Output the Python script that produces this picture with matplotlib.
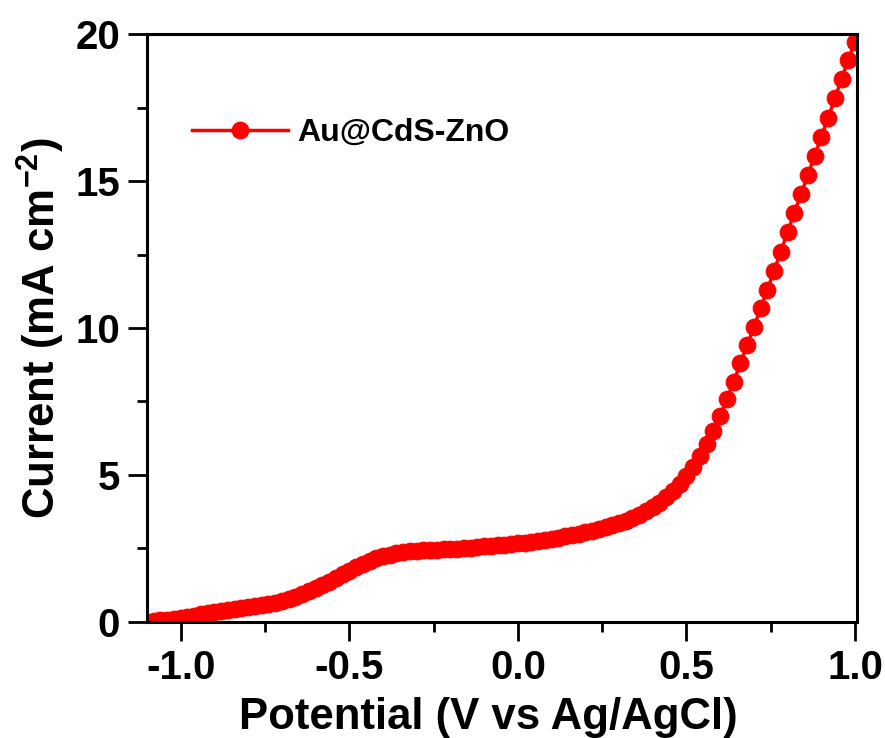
import numpy as np
import matplotlib
matplotlib.use('Agg')
import matplotlib.pyplot as plt
from matplotlib.ticker import MultipleLocator, FormatStrFormatter

plt.rcParams['font.family'] = ['Liberation Sans', 'DejaVu Sans']
plt.rcParams['font.weight'] = 'bold'
plt.rcParams['axes.unicode_minus'] = False
plt.rcParams['mathtext.fontset'] = 'custom'
plt.rcParams['mathtext.rm'] = 'Liberation Sans:bold'
plt.rcParams['mathtext.default'] = 'rm'

# LSV scan, Au@CdS-ZnO (potential vs Ag/AgCl, 20 mV steps)
potential = np.round(np.arange(-1.10, 1.001, 0.02), 2)
current = [
    # -1.10 ... -0.16
    0.00, 0.03, 0.06, 0.08, 0.11, 0.14, 0.18, 0.22, 0.26, 0.30,
    0.34, 0.38, 0.42, 0.45, 0.48, 0.51, 0.54, 0.57, 0.61, 0.66,
    0.71, 0.77, 0.85, 0.94, 1.04, 1.14, 1.25, 1.37, 1.50, 1.62,
    1.74, 1.86, 1.97, 2.07, 2.16, 2.23, 2.29, 2.34, 2.37, 2.40,
    2.42, 2.44, 2.45, 2.46, 2.47, 2.48, 2.49, 2.51,
    # -0.14 ... 0.38
    2.53, 2.55, 2.57, 2.59, 2.61, 2.63, 2.65, 2.67, 2.70, 2.73,
    2.76, 2.79, 2.83, 2.87, 2.91, 2.95, 3.00, 3.05, 3.10, 3.16,
    3.22, 3.29, 3.36, 3.44, 3.53, 3.63, 3.76,
    # 0.40 ... 1.00
    3.90, 4.06, 4.24, 4.45, 4.68, 4.95, 5.28, 5.65, 6.05, 6.50,
    7.00, 7.58, 8.17, 8.80, 9.42, 10.04, 10.67, 11.30, 11.95, 12.60,
    13.26, 13.92, 14.56, 15.20, 15.85, 16.51, 17.13, 17.81, 18.46, 19.12,
    19.74,
]
label = 'Au@CdS-ZnO'

fig = plt.figure(figsize=(8.85, 7.38), dpi=100)
ax = fig.add_axes([0.1661, 0.1572, 0.8023, 0.7967])

ax.plot(potential, current, color='#ff0000', lw=2.5, marker='o',
        markersize=12, markeredgewidth=0.8, markeredgecolor='#ff0000',
        label=label)

ax.set_xlim(-1.1, 1.006)
ax.set_ylim(0, 20)
ax.xaxis.set_major_locator(MultipleLocator(0.5))
ax.xaxis.set_minor_locator(MultipleLocator(0.25))
ax.yaxis.set_major_locator(MultipleLocator(5))
ax.yaxis.set_minor_locator(MultipleLocator(2.5))
ax.xaxis.set_major_formatter(FormatStrFormatter('%.1f'))

for s in ax.spines.values():
    s.set_linewidth(2.2)
ax.tick_params(which='major', direction='out', length=13.5, width=2.0,
               labelsize=29, pad=6)
ax.tick_params(which='minor', direction='out', length=7, width=2.0)
ax.tick_params(top=False, right=False, which='both')

ax.set_xlabel('Potential (V vs Ag/AgCl)', fontsize=31.5, fontweight='bold')
ax.set_ylabel('Current (mA cm$^{-2}$)', fontsize=31.5, fontweight='bold')
ax.xaxis.set_label_coords(0.48, -0.128)
ax.yaxis.set_label_coords(-0.112, 0.5)

ax.legend(loc='center left', bbox_to_anchor=(0.0634, 0.8316), frameon=False,
          handlelength=3.0, handletextpad=0.3, borderpad=0,
          borderaxespad=0, prop={'weight': 'bold', 'size': 23})

fig.savefig('out.png', dpi=100)
